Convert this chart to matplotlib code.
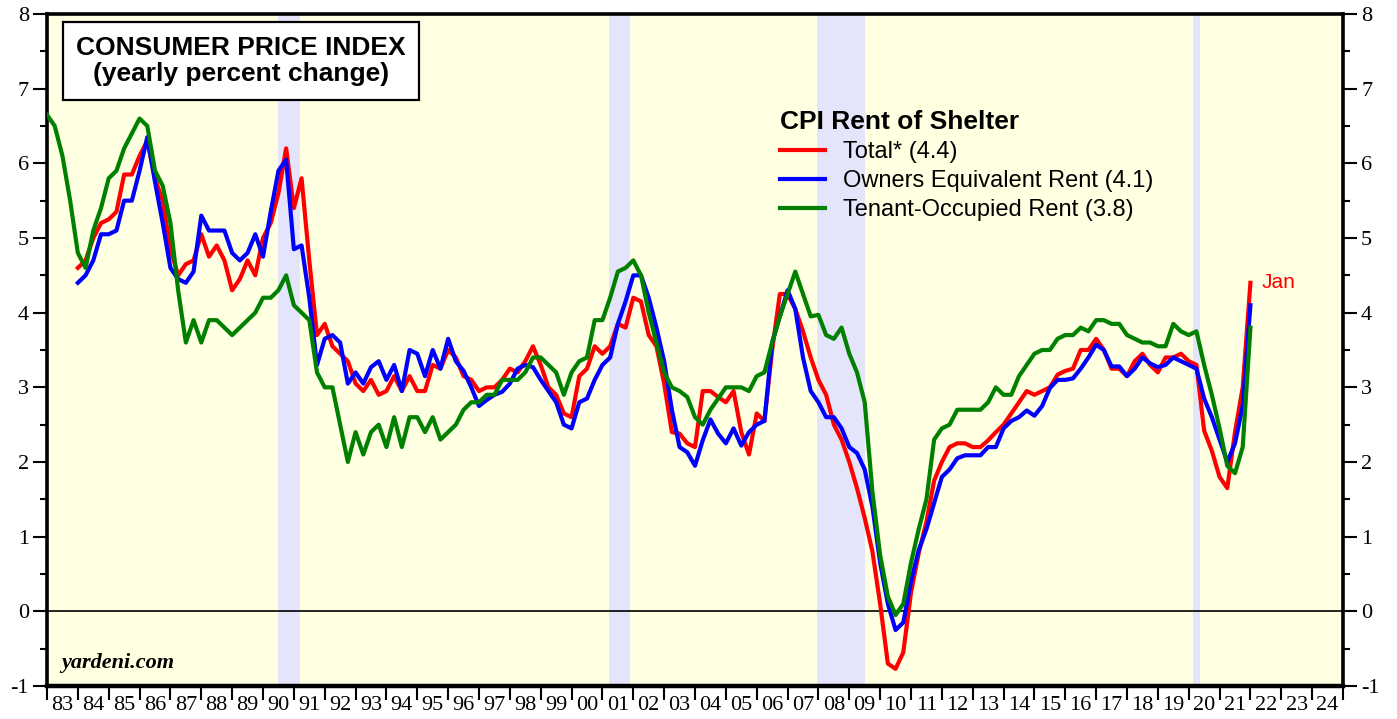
"""CPI rent of shelter, yearly percent change (quarterly readings off the Yardeni chart)."""
import matplotlib

matplotlib.use("Agg")

import matplotlib.pyplot as plt  # noqa: E402
import numpy as np  # noqa: E402
from matplotlib.ticker import FixedLocator, MultipleLocator, NullFormatter  # noqa: E402

plt.rcParams["axes.unicode_minus"] = False  # the source prints "-1" with a hyphen

# quarterly observations (Jan/Apr/Jul/Oct), last one is Jan 2022
TENANT_START = 1983.0
TOTAL_START = 1984.0
STEP = 0.25

tenant = [
    6.65, 6.5, 6.1, 5.5,  4.8, 4.6, 5.1, 5.4,  5.8, 5.9, 6.2, 6.4,  6.6, 6.5, 5.9, 5.7,
    5.2, 4.3, 3.6, 3.9,  3.6, 3.9, 3.9, 3.8,  3.7, 3.8, 3.9, 4.0,  4.2, 4.2, 4.3, 4.5,
    4.1, 4.0, 3.9, 3.2,  3.0, 3.0, 2.5, 2.0,  2.4, 2.1, 2.4, 2.5,  2.2, 2.6, 2.2, 2.6,
    2.6, 2.4, 2.6, 2.3,  2.4, 2.5, 2.7, 2.8,  2.8, 2.9, 2.9, 3.1,  3.1, 3.1, 3.2, 3.4,
    3.4, 3.3, 3.2, 2.9,  3.2, 3.35, 3.4, 3.9,  3.9, 4.2, 4.55, 4.6,  4.7, 4.5, 4.0, 3.6,
    3.2, 3.0, 2.95, 2.87,  2.6, 2.5, 2.7, 2.85,  3.0, 3.0, 3.0, 2.95,  3.15, 3.2, 3.6, 3.95,
    4.25, 4.55, 4.25, 3.95,  3.97, 3.7, 3.65, 3.8,  3.45, 3.2, 2.8, 1.6,  0.75, 0.2, -0.05, 0.1,
    0.65, 1.1, 1.5, 2.3,  2.45, 2.5, 2.7, 2.7,  2.7, 2.7, 2.8, 3.0,  2.9, 2.9, 3.15, 3.3,
    3.45, 3.5, 3.5, 3.65,  3.7, 3.7, 3.8, 3.75,  3.9, 3.9, 3.85, 3.85,  3.7, 3.65, 3.6, 3.6,
    3.55, 3.55, 3.85, 3.75,  3.7, 3.75, 3.3, 2.9,  2.45, 1.95, 1.85, 2.2,  3.8,
]

total = [
    4.6, 4.7, 5.0, 5.2,  5.25, 5.35, 5.85, 5.85,  6.1, 6.3, 5.8, 5.5,  4.85, 4.5, 4.65, 4.7,
    5.05, 4.75, 4.9, 4.7,  4.3, 4.45, 4.7, 4.5,  5.0, 5.2, 5.6, 6.2,  5.4, 5.8, 4.7, 3.7,
    3.85, 3.55, 3.45, 3.35,  3.05, 2.95, 3.1, 2.9,  2.95, 3.15, 2.95, 3.15,  2.95, 2.95, 3.3, 3.25,
    3.5, 3.4, 3.15, 3.1,  2.95, 3.0, 3.0, 3.1,  3.25, 3.2, 3.35, 3.55,  3.3, 3.0, 2.9, 2.65,
    2.6, 3.15, 3.25, 3.55,  3.45, 3.55, 3.85, 3.8,  4.2, 4.15, 3.7, 3.55,  3.05, 2.4, 2.38, 2.25,
    2.2, 2.95, 2.95, 2.87,  2.8, 2.95, 2.4, 2.1,  2.65, 2.55, 3.5, 4.25,  4.25, 4.05, 3.75, 3.4,
    3.1, 2.9, 2.5, 2.3,  2.0, 1.65, 1.25, 0.8,  0.1, -0.7, -0.77, -0.55,  0.25, 0.78, 1.2, 1.75,
    2.0, 2.2, 2.25, 2.25,  2.2, 2.2, 2.29, 2.4,  2.5, 2.65, 2.8, 2.95,  2.9, 2.95, 3.0, 3.17,
    3.22, 3.25, 3.5, 3.5,  3.65, 3.5, 3.25, 3.25,  3.15, 3.35, 3.45, 3.3,  3.2, 3.4, 3.4, 3.45,
    3.35, 3.3, 2.42, 2.15,  1.8, 1.65, 2.4, 3.0,  4.4,
]

oer = [
    4.4, 4.5, 4.7, 5.05,  5.05, 5.1, 5.5, 5.5,  5.9, 6.35, 5.75, 5.2,  4.6, 4.45, 4.4, 4.55,
    5.3, 5.1, 5.1, 5.1,  4.8, 4.7, 4.8, 5.05,  4.75, 5.35, 5.9, 6.05,  4.85, 4.9, 4.2, 3.3,
    3.65, 3.7, 3.6, 3.05,  3.2, 3.05, 3.27, 3.35,  3.1, 3.3, 2.95, 3.5,  3.45, 3.15, 3.5, 3.25,
    3.65, 3.35, 3.22, 3.0,  2.75, 2.83, 2.9, 2.94,  3.05, 3.25, 3.3, 3.27,  3.1, 2.95, 2.8, 2.5,
    2.45, 2.8, 2.85, 3.1,  3.3, 3.4, 3.85, 4.15,  4.5, 4.5, 4.2, 3.8,  3.35, 2.7, 2.2, 2.13,
    1.95, 2.29, 2.57, 2.38,  2.25, 2.45, 2.22, 2.4,  2.5, 2.55, 3.6, 3.95,  4.3, 4.05, 3.4, 2.95,
    2.8, 2.6, 2.6, 2.45,  2.2, 2.12, 1.9, 1.4,  0.65, 0.1, -0.25, -0.15,  0.4, 0.82, 1.1, 1.45,
    1.8, 1.9, 2.05, 2.09,  2.09, 2.09, 2.2, 2.2,  2.45, 2.55, 2.6, 2.69,  2.62, 2.75, 2.99, 3.1,
    3.1, 3.12, 3.25, 3.4,  3.57, 3.5, 3.28, 3.28,  3.15, 3.25, 3.4, 3.32,  3.27, 3.3, 3.4, 3.35,
    3.3, 3.25, 2.85, 2.6,  2.3, 2.0, 2.25, 2.75,  4.1,
]

recessions = [(1990.5, 1991.2), (2001.2, 2001.9), (2007.95, 2009.5), (2020.15, 2020.35)]
years = list(range(1983, 2025))
year_labels = [f"{y % 100:02d}" for y in years]

SANS = ["Liberation Sans", "DejaVu Sans"]
SERIF = ["Liberation Serif", "DejaVu Serif"]


def dates(start, n):
    return start + STEP * np.arange(n)


fig = plt.figure(figsize=(13.97, 7.19), dpi=100)
ax = fig.add_axes([47 / 1397, 33 / 719, 1296 / 1397, 672 / 719])
ax.set_facecolor("#ffffe1")

for a, b in recessions:
    ax.axvspan(a, b, color="#e4e4fa", lw=0, zorder=0)
ax.axhline(0, color="black", lw=1.2, zorder=1)

LW = 3.0
ax.plot(dates(TOTAL_START, len(total)), total, color="#ff0000", lw=LW, zorder=3,
        solid_joinstyle="round", label="Total* (4.4)")
ax.plot(dates(TOTAL_START, len(oer)), oer, color="#0000ff", lw=LW, zorder=4,
        solid_joinstyle="round", label="Owners Equivalent Rent (4.1)")
ax.plot(dates(TENANT_START, len(tenant)), tenant, color="#008000", lw=LW, zorder=5,
        solid_joinstyle="round", label="Tenant-Occupied Rent (3.8)")

ax.set_xlim(1983, 2025)
ax.set_ylim(-1, 8)

# y axis: labels both sides
ax.yaxis.set_major_locator(MultipleLocator(1))
ax.yaxis.set_minor_locator(MultipleLocator(0.5))
ax.tick_params(axis="y", which="major", direction="out", length=10, width=1.5,
               left=True, right=True, labelleft=True, labelright=True, labelsize=16, pad=3)
ax.tick_params(axis="y", which="minor", direction="out", length=5, width=1.5, left=True, right=True)
for lab in ax.get_yticklabels():
    lab.set_fontfamily(SERIF)

# x axis: ticks at year boundaries, labels centred in each year
ax.xaxis.set_major_locator(FixedLocator(years + [2025]))
ax.xaxis.set_major_formatter(NullFormatter())
ax.xaxis.set_minor_locator(FixedLocator([y + 0.5 for y in years]))
ax.set_xticklabels(year_labels, minor=True, fontfamily=SERIF, fontsize=16)
ax.tick_params(axis="x", which="major", direction="out", length=10, width=1.5)
ax.tick_params(axis="x", which="minor", length=0, pad=7)

for side in ("left", "right", "top"):
    ax.spines[side].set_linewidth(2.6)
ax.spines["bottom"].set_linewidth(3.2)

# title box
ax.text(0.1497, 0.930, "CONSUMER PRICE INDEX\n(yearly percent change)", transform=ax.transAxes,
        ha="center", va="center", fontfamily=SANS, fontweight="bold", fontsize=19, linespacing=1.15,
        bbox=dict(boxstyle="square,pad=0.5", fc="white", ec="black", lw=1.6), zorder=6)

leg = ax.legend(loc="upper left", bbox_to_anchor=(0.5656, 0.857), frameon=False,
                title="CPI Rent of Shelter", handlelength=1.9, handletextpad=0.75,
                labelspacing=0.3, borderaxespad=0, borderpad=0,
                prop={"family": SANS, "size": 17})
leg.get_title().set_fontfamily(SANS)
leg.get_title().set_fontweight("bold")
leg.get_title().set_fontsize(19)
leg._legend_box.align = "left"

ax.text(2022.35, total[-1], "Jan", color="#ff0000", fontfamily=SANS, fontsize=15,
        ha="left", va="center")
ax.text(0.011, 0.02, "yardeni.com", transform=ax.transAxes, fontfamily=SERIF,
        fontweight="bold", fontstyle="italic", fontsize=16, ha="left", va="bottom")

fig.savefig("out.png", dpi=100)
